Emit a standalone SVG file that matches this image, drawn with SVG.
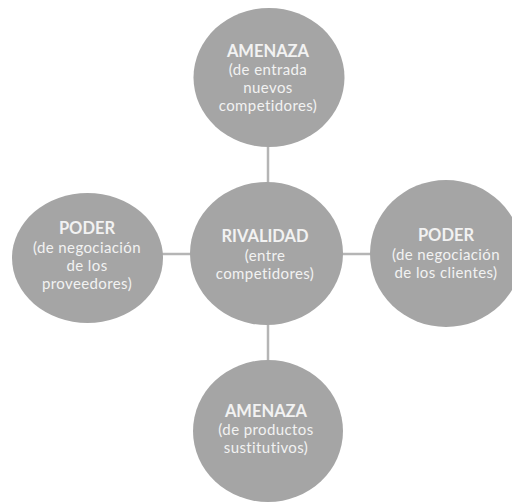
<svg xmlns="http://www.w3.org/2000/svg" width="512" height="502" viewBox="0 0 512 502">
<style>
.c{fill:#a5a5a5}
.t{font-family:Lato,"Open Sans","Liberation Sans",sans-serif;fill:#f2f2f2;text-anchor:middle;font-size:15px;letter-spacing:0.4px}
.b{font-weight:bold;font-size:16.5px;letter-spacing:0}
.l{stroke:#b5b5b5;stroke-width:2.5;fill:none}
</style>
<rect width="512" height="502" fill="#ffffff"/>
<g id="connectors">
<line class="l" x1="268" y1="146" x2="268" y2="183"/>
<line class="l" x1="268" y1="324" x2="268" y2="361"/>
<line class="l" x1="162" y1="254" x2="191" y2="254"/>
<line class="l" x1="342" y1="254" x2="371" y2="254"/>
</g>
<g id="top">
<ellipse class="c" cx="269" cy="77.5" rx="75.5" ry="69.5"/>
<text class="t b" x="268" y="57">AMENAZA</text>
<text class="t" x="268" y="75">(de entrada</text>
<text class="t" x="268" y="93">nuevos</text>
<text class="t" x="268" y="111">competidores)</text>
</g>
<g id="center">
<ellipse class="c" cx="266.5" cy="253.5" rx="76.5" ry="71.5"/>
<text class="t b" x="265" y="242">RIVALIDAD</text>
<text class="t" x="265" y="261">(entre</text>
<text class="t" x="265" y="279">competidores)</text>
</g>
<g id="left">
<ellipse class="c" cx="87.5" cy="258" rx="75.5" ry="65"/>
<text class="t b" x="87" y="234">PODER</text>
<text class="t" x="87" y="253">(de negociación</text>
<text class="t" x="87" y="271">de los</text>
<text class="t" x="87" y="289">proveedores)</text>
</g>
<g id="right">
<ellipse class="c" cx="446" cy="253.5" rx="76" ry="73.5"/>
<text class="t b" x="446" y="241">PODER</text>
<text class="t" x="446" y="260">(de negociación</text>
<text class="t" x="446" y="278">de los clientes)</text>
</g>
<g id="bottom">
<ellipse class="c" cx="268" cy="431" rx="75" ry="71"/>
<text class="t b" x="266" y="417">AMENAZA</text>
<text class="t" x="266" y="435">(de productos</text>
<text class="t" x="266" y="453">sustitutivos)</text>
</g>
</svg>
